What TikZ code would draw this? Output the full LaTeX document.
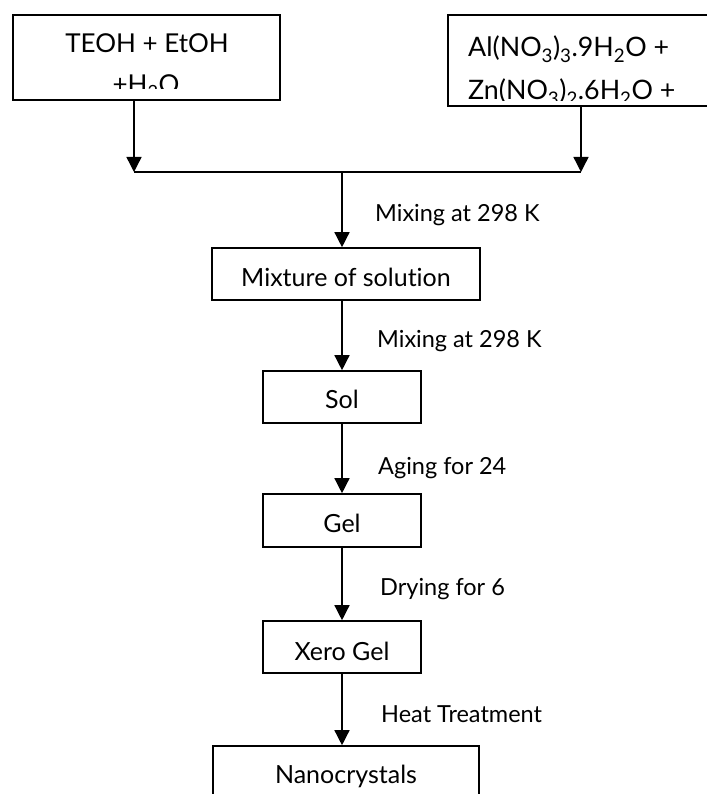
\documentclass[tikz,border=0pt]{standalone}
\usepackage{fontspec}
\setmainfont[Ligatures={NoCommon}]{Lato}
\usetikzlibrary{arrows.meta}
\begin{document}
\begin{tikzpicture}[x=1pt,y=-1pt,
  box/.style={draw,line width=1.6pt,rectangle,inner sep=0pt,font=\fontsize{25}{30}\selectfont},
  lbl/.style={anchor=base west,inner sep=0pt,font=\fontsize{23.5}{28}\selectfont},
  boxtxt/.style={anchor=base,inner sep=0pt,font=\fontsize{26}{30}\selectfont},
  boxtxtl/.style={anchor=base west,inner sep=0pt,font=\fontsize{26.8}{30}\selectfont},
  conn/.style={line width=1.4pt},
  arr/.style={line width=1.4pt,-{Triangle[length=15pt,width=15pt]}}]
\useasboundingbox (0,0) rectangle (706,794);
% top boxes
\node[box,minimum width=267pt,minimum height=85pt] (left) at (146.5,57.5) {};
\node[box,minimum width=272pt,minimum height=91pt] (right) at (584,60.5) {};
\begin{scope}
\clip (13,15) rectangle (280,89);
\node[boxtxt] (t1) at (147,53) {TEOH + EtOH};
\node[boxtxt] (t2) at (146,94) {+H\textsubscript{2}O};
\end{scope}
\begin{scope}
\clip (448,15) rectangle (706,101);
\node[boxtxtl] (t3) at (468,57) {Al(NO\textsubscript{3})\textsubscript{3}.9H\textsubscript{2}O +};
\node[boxtxtl] (t4) at (468,100) {Zn(NO\textsubscript{3})\textsubscript{2}.6H\textsubscript{2}O +};
\end{scope}
% junction
\coordinate (jl) at (134,172);
\coordinate (jr) at (581,172);
\coordinate (jm) at (342,172);
% process boxes
\node[box,anchor=base,minimum width=268pt,text height=38pt,text depth=14pt] (mix) at (346,286) {Mixture of solution};
\node[box,anchor=base,minimum width=158pt,text height=37pt,text depth=15pt] (sol) at (342,408) {Sol};
\node[box,anchor=base,minimum width=158pt,text height=38pt,text depth=15pt] (gel) at (342,532) {Gel};
\node[box,anchor=base,minimum width=158pt,text height=39pt,text depth=13pt] (xero) at (342,660) {Xero Gel};
\node[box,anchor=base,minimum width=266pt,text height=37pt,text depth=30pt] (nano) at (346,783) {Nanocrystals};
% connectors
\draw[arr] (left.south -| jl) -- (jl);
\draw[arr] (right.south -| jr) -- (jr);
\draw[conn] (jl) -- (jr);
\draw[arr] (jm) -- (jm |- mix.north);
\draw[arr] (mix.south -| jm) -- (jm |- sol.north);
\draw[arr] (sol.south -| jm) -- (jm |- gel.north);
\draw[arr] (gel.south -| jm) -- (jm |- xero.north);
\draw[arr] (xero.south -| jm) -- (jm |- nano.north);
% labels
\node[lbl] (l1) at (375,222) {Mixing at 298 K};
\node[lbl] (l2) at (377,347) {Mixing at 298 K};
\node[lbl] (l3) at (378,474) {Aging for 24};
\node[lbl] (l4) at (380,595) {Drying for 6};
\node[lbl] (l5) at (381,722) {Heat Treatment};
\end{tikzpicture}
\end{document}
